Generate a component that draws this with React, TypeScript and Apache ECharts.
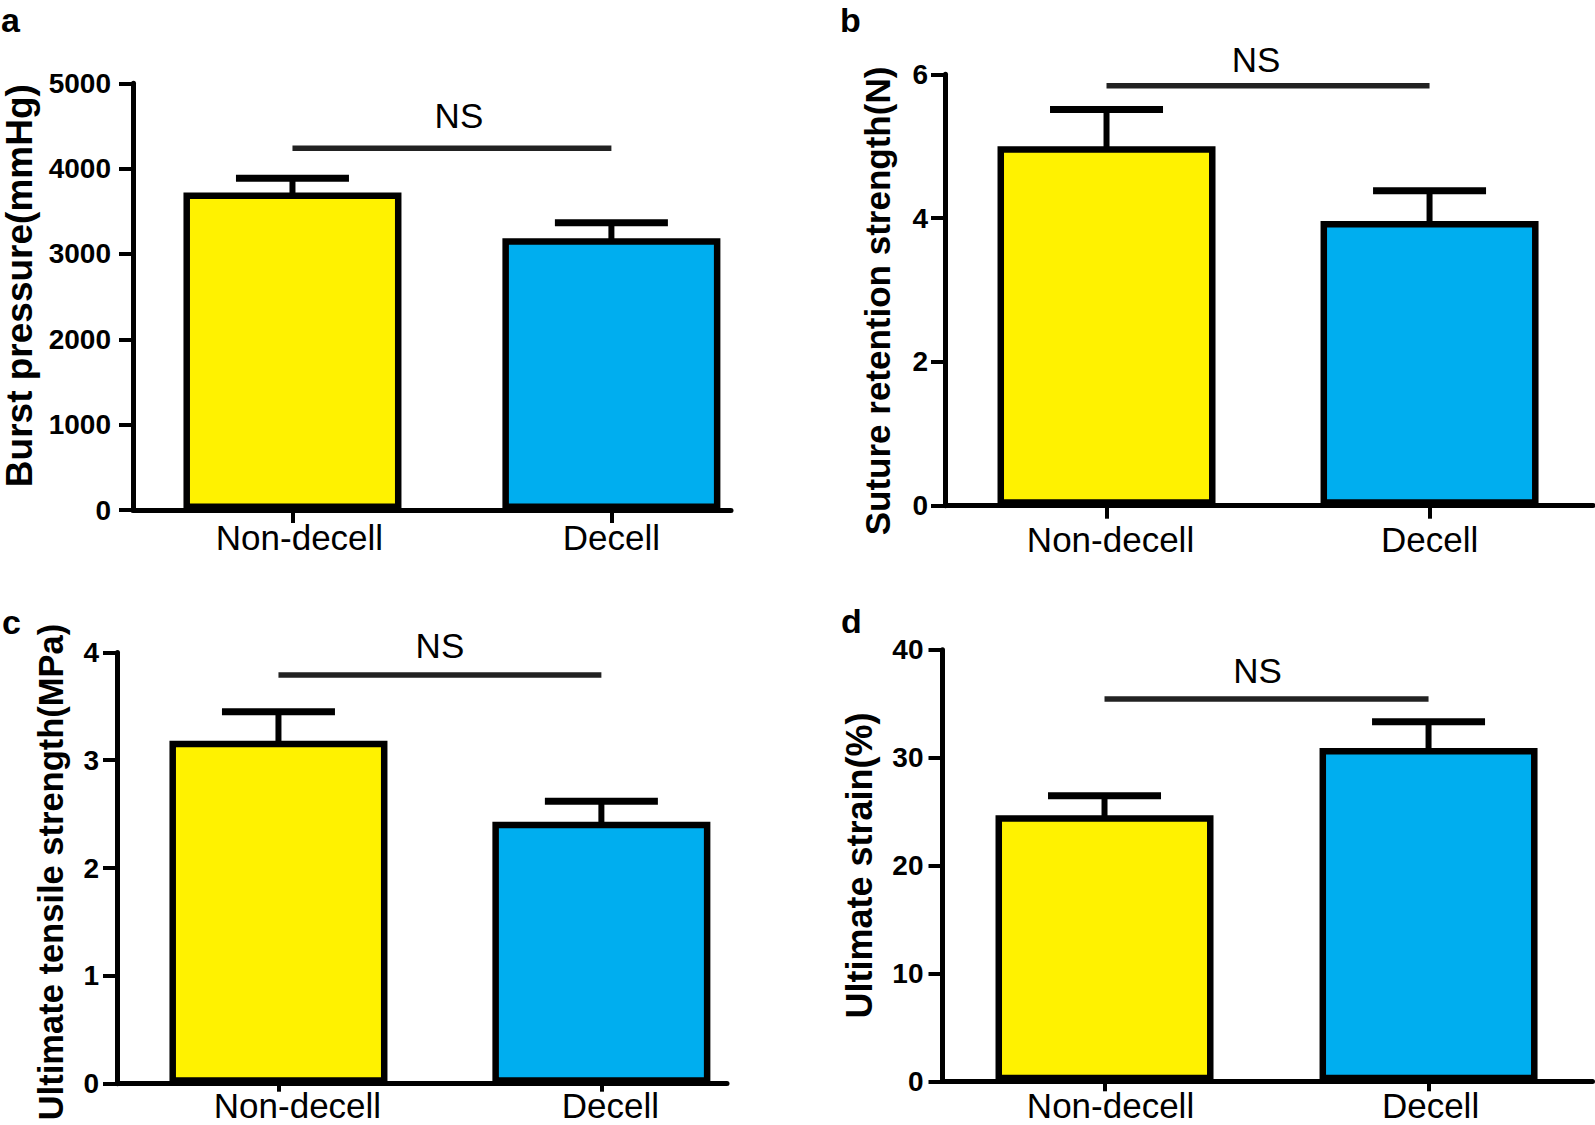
import React, { useEffect, useRef } from "react";
import * as echarts from "echarts";

const categories = ["Non-decell", "Decell"];
const barColors = ["#FFF200", "#00AEEF"];

const burstMean = [3720, 3185];
const burstSD = [167, 180];
const burstNS = 4240;
const burstTicks = { min: 0, max: 5000, interval: 1000 };

const sutureMean = [5.0, 3.96];
const sutureSD = [0.51, 0.42];
const sutureNS = 5.84;
const sutureTicks = { min: 0, max: 6, interval: 2 };

const utsMean = [3.18, 2.43];
const utsSD = [0.27, 0.19];
const utsNS = 3.79;
const utsTicks = { min: 0, max: 4, interval: 1 };

const strainMean = [24.65, 30.88];
const strainSD = [1.82, 2.45];
const strainNS = 35.42;
const strainTicks = { min: 0, max: 40, interval: 10 };

const panelLetters = ["a", "b", "c", "d"];
const yNames = [
  "Burst pressure(mmHg)",
  "Suture retention strength(N)",
  "Ultimate tensile strength(MPa)",
  "Ultimate strain(%)",
];
const nsLabel = "NS";

const FONT = "'Liberation Sans', Arial, Helvetica, sans-serif";

// layout / style per panel
const panels = [
  {
    mean: burstMean, sd: burstSD, ns: burstNS, ticks: burstTicks,
    grid: { left: 131, top: 83.3, width: 600, height: 426.7 }, xMax: 1.375,
    nameGap: 95, nameSize: 37, namePad: [0, 0, 0, 22], labelMargin: 22, catMargin: 13.9, catTick: 13,
    catShift: [7, 0], nsDx: 7, nsDy: -33,
  },
  {
    mean: sutureMean, sd: sutureSD, ns: sutureNS, ticks: sutureTicks,
    grid: { left: 945, top: 74.3, width: 648, height: 431.4 }, xMax: 1.506,
    nameGap: 50, nameSize: 35, namePad: [0, 22, 0, 0], labelMargin: 17, catMargin: 19.9, catTick: 13,
    catShift: [4, 0], nsDx: -12, nsDy: -26,
  },
  {
    mean: utsMean, sd: utsSD, ns: utsNS, ticks: utsTicks,
    grid: { left: 117, top: 652.4, width: 610, height: 431.3 }, xMax: 1.389,
    nameGap: 49, nameSize: 34.5, namePad: [0, 8, 0, 0], labelMargin: 18, catMargin: 7.6, catTick: 8,
    catShift: [19, 9], nsDx: 0, nsDy: -30,
  },
  {
    mean: strainMean, sd: strainSD, ns: strainNS, ticks: strainTicks,
    grid: { left: 942.5, top: 649.7, width: 650, height: 431.6 }, xMax: 1.506,
    nameGap: 65, nameSize: 36, namePad: [0, 0, 0, 0], labelMargin: 19, catMargin: 10, catTick: 10,
    catShift: [6, 2], nsDx: -9, nsDy: -29,
  },
];

const letterPos = [
  { x: 1, y: 5.2 },
  { x: 840, y: 5.2 },
  { x: 2, y: 607.2 },
  { x: 841, y: 606.2 },
];

export default function App() {
  const ref = useRef<HTMLDivElement>(null);
  useEffect(() => {
    if (!ref.current) return;
    const chart = echarts.init(ref.current, undefined, { renderer: "svg" });
    const grid: any[] = [];
    const xAxis: any[] = [];
    const yAxis: any[] = [];
    const series: any[] = [];
    panels.forEach((p, i) => {
      grid.push({ ...p.grid, containLabel: false });
      const rich: any = {};
      categories.forEach((c, k) => {
        rich["l" + k] = {
          fontSize: 35,
          lineHeight: 28,
          fontFamily: FONT,
          color: "#000",
          padding: [0, 0, 0, 2 * p.catShift[k]],
        };
      });
      xAxis.push({
        type: "value",
        gridIndex: i,
        min: -0.5,
        max: p.xMax,
        axisLine: { show: true, onZero: false, lineStyle: { color: "#000", width: 5 } },
        axisTick: { show: true, customValues: [0, 1], length: p.catTick, lineStyle: { color: "#000", width: 4 } },
        axisLabel: {
          show: true,
          customValues: [0, 1],
          formatter: (v: number) => {
            const k = Math.round(v);
            return categories[k] !== undefined ? `{l${k}|${categories[k]}}` : "";
          },
          rich,
          color: "#000",
          fontSize: 35,
          lineHeight: 28,
          fontFamily: FONT,
          margin: p.catMargin,
        },
        splitLine: { show: false },
      });
      yAxis.push({
        type: "value",
        gridIndex: i,
        min: p.ticks.min,
        max: p.ticks.max,
        interval: p.ticks.interval,
        name: yNames[i],
        nameLocation: "middle",
        nameGap: p.nameGap,
        nameTextStyle: {
          color: "#000",
          fontSize: p.nameSize,
          fontWeight: "bold",
          fontFamily: FONT,
          padding: p.namePad,
        },
        axisLine: { show: true, onZero: false, lineStyle: { color: "#000", width: 5 } },
        axisTick: { show: true, length: 14, lineStyle: { color: "#000", width: 4 } },
        axisLabel: {
          color: "#000",
          fontSize: 28,
          fontWeight: "bold",
          fontFamily: FONT,
          margin: p.labelMargin,
          formatter: (v: number) => String(v),
        },
        splitLine: { show: false },
      });
      series.push({
        type: "custom",
        xAxisIndex: i,
        yAxisIndex: i,
        z: 1,
        silent: true,
        data: p.mean.map((m, k) => [k, m, p.sd[k]]),
        renderItem: (params: any, api: any) => {
          const x = api.value(0);
          const m = api.value(1);
          const s = api.value(2);
          const base = api.coord([x, m]);
          const cap = api.coord([x, m + s]);
          return {
            type: "group",
            children: [
              { type: "line", shape: { x1: base[0], y1: base[1] + 4, x2: cap[0], y2: cap[1] }, style: { stroke: "#000", lineWidth: 6 } },
              { type: "line", shape: { x1: cap[0] - 56.5, y1: cap[1], x2: cap[0] + 56.5, y2: cap[1] }, style: { stroke: "#000", lineWidth: 7 } },
            ],
          };
        },
      });
      series.push({
        type: "bar",
        xAxisIndex: i,
        yAxisIndex: i,
        z: 2,
        barWidth: 218,
        silent: true,
        data: p.mean.map((m, k) => ({
          value: [k, m],
          itemStyle: { color: barColors[k], borderColor: "#000", borderWidth: 6.5 },
        })),
      });
      series.push({
        type: "custom",
        xAxisIndex: i,
        yAxisIndex: i,
        z: 3,
        silent: true,
        data: [[0, 1, p.ns]],
        renderItem: (params: any, api: any) => {
          const a = api.coord([api.value(0), api.value(2)]);
          const b = api.coord([api.value(1), api.value(2)]);
          return {
            type: "group",
            children: [
              { type: "line", shape: { x1: a[0], y1: a[1], x2: b[0], y2: b[1] }, style: { stroke: "#222", lineWidth: 5.5 } },
              {
                type: "text",
                x: (a[0] + b[0]) / 2 + p.nsDx,
                y: a[1] + p.nsDy,
                style: { text: nsLabel, fill: "#000", font: `35px ${FONT}`, align: "center", verticalAlign: "middle" },
              },
            ],
          };
        },
      });
    });
    const graphic = panelLetters.map((t, i) => ({
      type: "text",
      x: letterPos[i].x,
      y: letterPos[i].y,
      style: {
        text: t,
        fill: "#000",
        font: `bold 34px ${FONT}`,
        lineHeight: 30,
        align: "left",
        verticalAlign: "top",
      },
    }));
    chart.setOption({
      animation: false,
      backgroundColor: "#fff",
      grid,
      xAxis,
      yAxis,
      series,
      graphic,
    });
    return () => chart.dispose();
  }, []);
  return <div ref={ref} style={{ position: "absolute", left: 0, top: 0, width: 1595, height: 1125 }} />;
}
